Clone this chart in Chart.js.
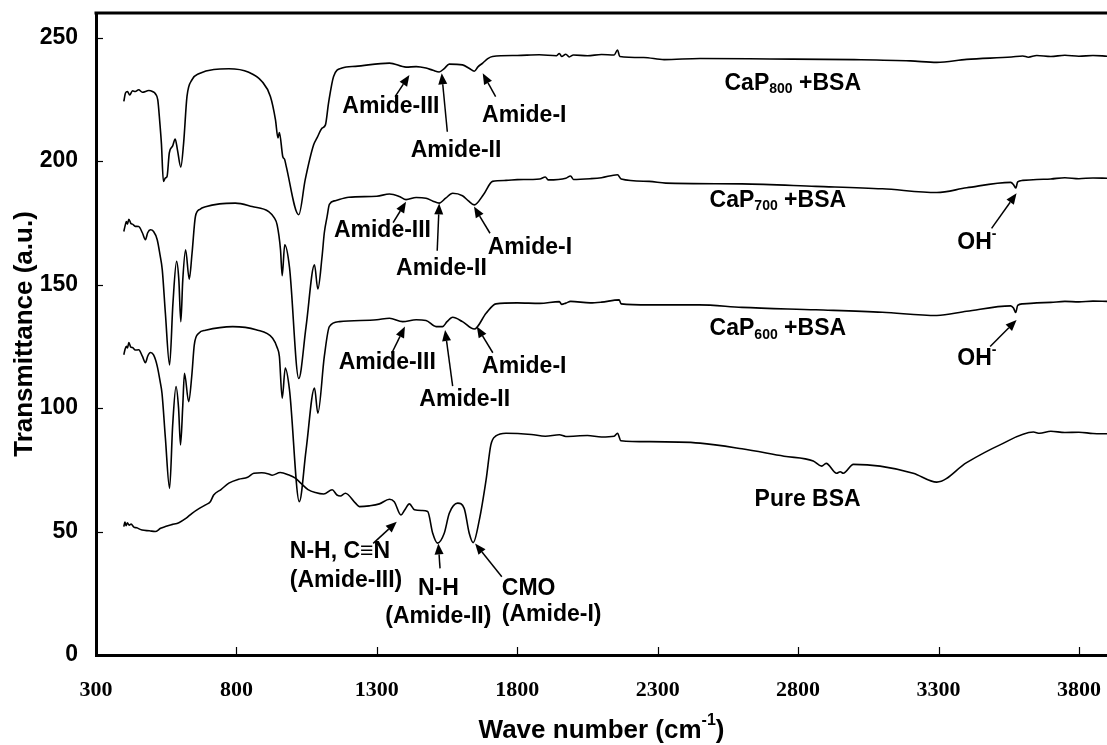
<!DOCTYPE html>
<html>
<head>
<meta charset="utf-8">
<title>FTIR spectra of BSA and CaP + BSA</title>
<script src="https://cdn.jsdelivr.net/npm/chart.js@4/dist/chart.umd.min.js"></script>
<style>
  html, body { margin: 0; padding: 0; background: #fff; }
  #wrap { width: 1107px; height: 745px; }
</style>
</head>
<body>
<div id="wrap"><canvas id="c" width="1107" height="745"></canvas></div>
<script>
// Axis tick values
const waveTicks = [300, 800, 1300, 1800, 2300, 2800, 3300, 3800];
const transTicks = [0, 50, 100, 150, 200, 250];

// Spectra: [wave number (cm-1), transmittance (a.u.)]
const cap800 = [
  [399,224.2],[405,227.6],[412,228.2],[420,226.8],[430,228.5],[440,228.2],[452,228.9],[465,227.9],
  [488,228.6],[501,228.2],[512,227.2],[520,224.8],[527,216],[533,207],[540,191.8],[547,193.2],
  [553,193.8],[561,203.3],[573,206.2],[582,209],[590,204.6],[602,197.6],[612,207.3],[624,226.2],
  [642,233],[666,235.4],[773,237.4],[844,236],[891,232.3],[921,226.2],[939,216.8],[948,209.4],
  [953,211.6],[965,201.9],[972,200.6],[977,198.1],[1022,178.3],[1045,192.5],[1075,206.6],
  [1087,209.4],[1105,213.4],[1117,214.7],[1128,223.5],[1146,234.3],[1176,237.7],[1224,238.4],
  [1345,239.7],[1404,238.1],[1440,238.3],[1475,237.7],[1500,236.8],[1522,236.1],[1540,237.5],
  [1558,239.3],[1605,239],[1630,237.5],[1647,236.4],[1660,238.2],[1677,239.7],[1695,241.5],
  [1712,242.4],[1800,242.8],[1878,243.1],[1940,242.7],[1950,243.6],[1958,242.4],[1973,243.3],
  [1985,242.2],[2000,243],[2050,242.7],[2100,243.2],[2145,243],[2157,245],[2165,242.4],
  [2250,242],[2323,241.1],[2451,241.6],[2700,241.4],[3000,241.1],[3200,240.6],[3294,240],
  [3400,241.2],[3560,242.2],[3600,242.6],[3620,242.1],[3650,242.8],[3700,242.4],[3750,242.9],
  [3800,242.5],[3850,242.8],[3900,242.5]
];

const cap700 = [
  [399,171.5],[404,174],[408,175.5],[412,174.5],[417,176.5],[424,174.8],[430,174.5],[440,173.6],
  [452,173.5],[465,171],[476,168.2],[484,171],[494,172.2],[505,171.5],[518,168.2],[528,162],
  [536,156],[547,138.5],[562,117.5],[574,142.5],[587,159.4],[595,151.9],[602,135],[609,151.9],
  [619,164.1],[632,152.2],[642,162.7],[654,177.6],[670,180.5],[690,181.5],[740,182.7],[796,183],
  [856,181.6],[915,179.6],[935,177],[945,174.2],[957,164.1],[963,153.6],[972,166.1],[989,157],
  [1022,112],[1048,133],[1078,158],[1090,148.2],[1105,161.4],[1113,171],[1123,177.6],[1131,182.5],
  [1152,184],[1200,185.4],[1300,185.8],[1345,186.7],[1380,185.7],[1404,184.4],[1440,185.3],
  [1475,185],[1500,183.8],[1522,183],[1545,185],[1570,187],[1605,186],[1625,184],[1647,182.3],
  [1680,186.5],[1712,191.8],[1760,192.2],[1800,192.5],[1880,192.8],[1900,193.6],[1910,192.4],
  [1973,193.1],[1990,194],[2000,192.6],[2060,192.9],[2100,193.3],[2157,194.5],[2170,192.8],
  [2270,191.8],[2329,191.1],[2600,190.8],[2863,189.8],[3100,188.8],[3294,187.3],[3400,189.2],
  [3557,191.4],[3567,190.5],[3575,189.1],[3582,191.6],[3600,192.2],[3650,192.6],[3700,192.8],
  [3750,193.3],[3800,192.9],[3850,193.2],[3900,193.1]
];

const cap600 = [
  [399,121.6],[404,124],[408,125],[412,124.3],[417,126.5],[424,124.7],[430,124.5],[440,123.5],
  [452,123.6],[465,121],[476,118.4],[484,121],[494,122.5],[505,121.5],[518,117],[528,111],
  [535,106],[547,88],[562,67.5],[573,93],[585,108.7],[594,100],[601,85.1],[609,101],[615,114.1],
  [630,102.6],[641,113],[650,125.6],[666,130.3],[690,131.5],[787,133],[870,131.7],[929,128.3],
  [945,124.5],[953,120.9],[963,104],[974,116.2],[989,107.4],[1024,62.1],[1048,83],[1078,108.1],
  [1090,97.9],[1113,120.9],[1131,133],[1167,135],[1300,135.8],[1345,136.4],[1392,135],
  [1440,135.8],[1475,135.5],[1511,133],[1534,133],[1550,135],[1570,136.8],[1605,135],[1647,132],
  [1689,138.4],[1724,142.2],[1800,142.6],[1880,142.4],[1950,143.1],[1958,142],[1973,142.5],
  [1990,143.2],[2060,142.6],[2100,142.9],[2163,143.8],[2170,142.2],[2270,141.8],[2448,141.8],
  [2600,140.8],[2863,139.8],[3100,138.8],[3294,137.5],[3400,139.2],[3557,141.4],[3567,140.5],
  [3575,138.7],[3582,141.6],[3600,142.2],[3650,142.6],[3700,142.8],[3750,143.2],[3800,143],
  [3850,143.3],[3900,143.2]
];

const pureBSA = [
  [399,52],[403,53.8],[407,52.4],[412,53.5],[418,52.6],[425,53],[435,51.8],[445,51.5],[464,50.6],
  [490,50.3],[511,50],[530,51.3],[547,52],[570,52.8],[595,53.6],[620,55.3],[642,57.4],[668,59.4],
  [690,60.8],[707,62.1],[719,64.8],[745,67],[773,69.6],[808,71.2],[840,72],[862,73.6],[890,73.8],
  [915,73.3],[927,72.8],[956,73.9],[985,73],[1010,71.6],[1030,69.5],[1055,67],[1081,65.8],
  [1111,65.2],[1141,66.9],[1158,64.8],[1170,64.4],[1188,65.5],[1224,61.5],[1238,60.1],[1273,60.4],
  [1309,61.2],[1345,63.1],[1362,62.1],[1386,56.7],[1398,58.5],[1416,61.2],[1434,58.8],[1461,58.5],
  [1481,58.1],[1499,49.3],[1516,45.3],[1540,49.3],[1558,57.4],[1588,61.5],[1611,59.4],[1629,49.3],
  [1643,45.5],[1665,54.7],[1689,70.9],[1706,85.1],[1724,88.7],[1760,89.8],[1850,89.3],[1900,88.6],
  [1950,89.2],[1973,88.5],[2050,88.9],[2100,88.3],[2145,88.6],[2157,89.8],[2169,86.8],[2270,86.4],
  [2451,85.8],[2600,83.5],[2750,80.5],[2854,78.6],[2884,76.5],[2900,77.6],[2937,73.6],[2950,74.2],
  [2961,73.6],[2997,77.2],[3092,76.5],[3210,73.6],[3294,70],[3400,77.9],[3519,85.1],[3638,90.3],
  [3660,89.8],[3700,90.6],[3750,90.1],[3800,90.2],[3850,89.7],[3900,89.6]
];

const SANS = '"Liberation Sans", Arial, sans-serif';
const SERIF = '"Liberation Serif", "Times New Roman", serif';

// Text pieces: [string, role] where role is 'n' (normal), 'sub' or 'sup'
const labels = [
  // CaP800 + BSA
  { at: [2538, 228.9], align: 'left',   parts: [['CaP','n'],['800','sub'],[' +BSA','n']] },
  { at: [1350, 219.4], align: 'center', parts: [['Amide-III','n']] },
  { at: [1582, 201.8], align: 'center', parts: [['Amide-II','n']] },
  { at: [1825, 216.0], align: 'center', parts: [['Amide-I','n']] },
  // CaP700 + BSA
  { at: [2485, 181.6], align: 'left',   parts: [['CaP','n'],['700','sub'],[' +BSA','n']] },
  { at: [1320, 169.2], align: 'center', parts: [['Amide-III','n']] },
  { at: [1530, 153.9], align: 'center', parts: [['Amide-II','n']] },
  { at: [1845, 162.4], align: 'center', parts: [['Amide-I','n']] },
  { at: [3367, 164.3], align: 'left',   parts: [['OH','n'],['-','sup']] },
  // CaP600 + BSA
  { at: [2485, 129.6], align: 'left',   parts: [['CaP','n'],['600','sub'],[' +BSA','n']] },
  { at: [1337, 115.7], align: 'center', parts: [['Amide-III','n']] },
  { at: [1613, 100.8], align: 'center', parts: [['Amide-II','n']] },
  { at: [1825, 114.1], align: 'center', parts: [['Amide-I','n']] },
  { at: [3367, 117.4], align: 'left',   parts: [['OH','n'],['-','sup']] },
  // Pure BSA
  { at: [2645, 60.3],  align: 'left',   parts: [['Pure BSA','n']] },
  { at: [990, 39.3],   align: 'left',   parts: [['N-H, C\u2261N','n']] },
  { at: [990, 27.7],   align: 'left',   parts: [['(Amide-III)','n']] },
  { at: [1519, 24.3],  align: 'center', parts: [['N-H','n']] },
  { at: [1519, 13.0],  align: 'center', parts: [['(Amide-II)','n']] },
  { at: [1745, 24.3],  align: 'left',   parts: [['CMO','n']] },
  { at: [1745, 13.6],  align: 'left',   parts: [['(Amide-I)','n']] }
];

// Arrows: [fromX, fromY, toX, toY] in data units, head at the "to" end
const arrows = [
  [1365, 226.1, 1416, 234.9], [1551, 211.9, 1531, 235.6], [1723, 226.1, 1677, 235.6],
  [1358, 175.1, 1404, 183.6], [1515, 163.7, 1522, 182.9], [1703, 170.8, 1646, 181.6],
  [3489, 172.8, 3578, 187.0],
  [1353, 122.2, 1400, 133.0], [1570, 108.9, 1543, 131.6], [1713, 122.4, 1656, 133.0],
  [3484, 124.9, 3578, 135.7],
  [1287, 45.2, 1371, 54.0], [1525, 35.1, 1519, 45.2], [1745, 31.7, 1650, 45.2]
];

function drawParts(ctx, parts, px, baseline, align, size) {
  const spec = { n: size, sub: Math.round(size * 0.62), sup: Math.round(size * 0.62) };
  let total = 0;
  parts.forEach(([t, r]) => { ctx.font = `bold ${spec[r]}px ${SANS}`; total += ctx.measureText(t).width; });
  let cx = align === 'center' ? px - total / 2 : px;
  ctx.textAlign = 'left';
  ctx.textBaseline = 'alphabetic';
  parts.forEach(([t, r]) => {
    ctx.font = `bold ${spec[r]}px ${SANS}`;
    const dy = r === 'sub' ? size * 0.16 : r === 'sup' ? -size * 0.5 : 0;
    ctx.fillText(t, cx, baseline + dy);
    cx += ctx.measureText(t).width;
  });
}

function drawArrow(ctx, x1, y1, x2, y2) {
  const ang = Math.atan2(y2 - y1, x2 - x1);
  const len = 11, half = 4.5;
  const bx = x2 - len * Math.cos(ang), by = y2 - len * Math.sin(ang);
  ctx.beginPath();
  ctx.moveTo(x1, y1);
  ctx.lineTo(bx, by);
  ctx.stroke();
  ctx.beginPath();
  ctx.moveTo(x2, y2);
  ctx.lineTo(bx + half * Math.sin(ang), by - half * Math.cos(ang));
  ctx.lineTo(bx - half * Math.sin(ang), by + half * Math.cos(ang));
  ctx.closePath();
  ctx.fill();
}

const decorations = {
  id: 'decorations',
  afterDatasetsDraw(chart) {
    const { ctx, chartArea: a, scales: { x, y } } = chart;
    ctx.save();
    ctx.strokeStyle = '#000';
    ctx.fillStyle = '#000';

    // frame line along the top
    ctx.lineWidth = 3;
    ctx.beginPath();
    ctx.moveTo(a.left - 1.5, a.top);
    ctx.lineTo(a.right, a.top);
    ctx.stroke();

    // inward tick marks
    ctx.lineWidth = 1.2;
    x.ticks.forEach(t => {
      const p = Math.round(x.getPixelForValue(t.value)) + 0.5;
      ctx.beginPath(); ctx.moveTo(p, a.bottom); ctx.lineTo(p, a.bottom - 8); ctx.stroke();
    });
    y.ticks.forEach(t => {
      const p = Math.round(y.getPixelForValue(t.value)) + 0.5;
      ctx.beginPath(); ctx.moveTo(a.left, p); ctx.lineTo(a.left + 7, p); ctx.stroke();
    });

    // annotations
    ctx.lineWidth = 1.5;
    arrows.forEach(([x1, y1, x2, y2]) => {
      drawArrow(ctx, x.getPixelForValue(x1), y.getPixelForValue(y1),
                     x.getPixelForValue(x2), y.getPixelForValue(y2));
    });
    labels.forEach(l => {
      drawParts(ctx, l.parts, x.getPixelForValue(l.at[0]), y.getPixelForValue(l.at[1]), l.align, 23);
    });

    // axis titles
    const midX = (a.left + a.right) / 2;
    drawParts(ctx, [['Wave number (cm','n'],['-1','sup'],[')','n']], midX, 738, 'center', 26);
    ctx.save();
    ctx.translate(31.5, (a.top + a.bottom) / 2);
    ctx.rotate(-Math.PI / 2);
    drawParts(ctx, [['Transmittance (a.u.)','n']], 0, 0, 'center', 26);
    ctx.restore();

    ctx.restore();
  }
};

const series = [cap800, cap700, cap600, pureBSA];

new Chart(document.getElementById('c'), {
  type: 'line',
  data: {
    datasets: series.map(s => ({
      data: s.map(([w, t]) => ({ x: w, y: t })),
      borderColor: '#000',
      borderWidth: 1.6,
      pointRadius: 0,
      fill: false,
      cubicInterpolationMode: 'monotone'
    }))
  },
  options: {
    responsive: false,
    animation: false,
    devicePixelRatio: 1,
    layout: { padding: { top: 13, right: 0, bottom: 0, left: 0 } },
    plugins: { legend: { display: false }, tooltip: { enabled: false } },
    scales: {
      x: {
        type: 'linear',
        min: 300,
        max: 3900,
        afterBuildTicks: s => { s.ticks = waveTicks.map(v => ({ value: v })); },
        afterFit: s => { s.height = 90; s.paddingLeft = 0; s.paddingRight = 0; },
        grid: { display: true, drawOnChartArea: false, drawTicks: false },
        border: { display: true, color: '#000', width: 3 },
        ticks: {
          color: '#000',
          padding: 22,
          maxRotation: 0,
          autoSkip: false,
          font: { family: SERIF, weight: 'bold', size: 22 },
          callback: v => String(v)
        }
      },
      y: {
        type: 'linear',
        min: 0,
        max: 260,
        afterBuildTicks: s => { s.ticks = transTicks.map(v => ({ value: v })); },
        afterFit: s => { s.width = 96; s.paddingTop = 0; s.paddingBottom = 0; },
        grid: { display: true, drawOnChartArea: false, drawTicks: false },
        border: { display: true, color: '#000', width: 3 },
        ticks: {
          color: '#000',
          padding: 18,
          autoSkip: false,
          font: { family: SANS, weight: 'bold', size: 23 },
          callback: v => String(v)
        }
      }
    }
  },
  plugins: [decorations]
});
</script>
</body>
</html>
